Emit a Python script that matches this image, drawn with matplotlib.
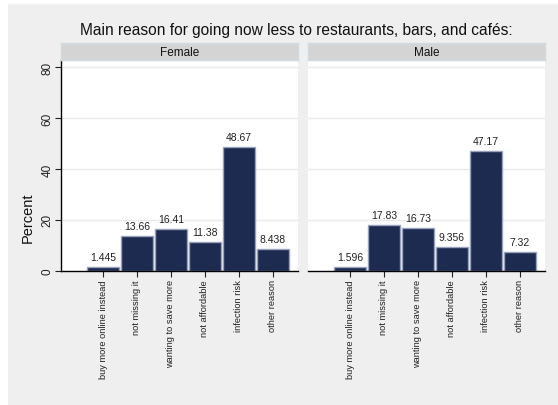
import matplotlib
matplotlib.use("Agg")
import matplotlib.pyplot as plt
from matplotlib.patches import Rectangle

plt.rcParams['font.family'] = ['Liberation Sans', 'DejaVu Sans']

categories = ["buy more online instead", "not missing it", "wanting to save more",
              "not affordable", "infection risk", "other reason"]
female = [1.445, 13.66, 16.41, 11.38, 48.67, 8.438]
male = [1.596, 17.83, 16.73, 9.356, 47.17, 7.32]
female_labels = ["1.445", "13.66", "16.41", "11.38", "48.67", "8.438"]
male_labels = ["1.596", "17.83", "16.73", "9.356", "47.17", "7.32"]
panels = ["Female", "Male"]
yticks = [0, 20, 40, 60, 80]
title = "Main reason for going now less to restaurants, bars, and cafés:"

W, H = 558, 406
fig = plt.figure(figsize=(W / 100, H / 100), dpi=100)
fig.patch.set_facecolor("white")
bg = Rectangle((7.5 / W, 0), 1, 1 - 5 / H, transform=fig.transFigure,
               facecolor="#efefef", edgecolor="none", zorder=-10)
fig.patches.append(bg)

def px_axes(x0, y0, x1, y1):
    ax = fig.add_axes([x0 / W, 1 - y1 / H, (x1 - x0) / W, (y1 - y0) / H])
    ax.set_zorder(1)
    return ax

fig.text(296 / W, 1 - 30 / H, title, ha="center", va="center", fontsize=11.2, color="#111111")

bar_face = "#1e2b51"
bar_edge = "#98a2ba"
positions = list(range(1, len(categories) + 1))

specs = [(61, 298, female, female_labels), (308, 545, male, male_labels)]
for i, (x0, x1, vals, labs) in enumerate(specs):
    ax = px_axes(x0, 61, x1, 271.7)
    ax.set_facecolor("white")
    ax.set_ylim(0, 82.9)
    ax.set_xlim(-0.24, 6.75)
    for y in yticks[1:]:
        ax.axhline(y, color="#eaeaea", lw=1.0, zorder=0)
    ax.bar(positions, vals, width=0.94, color=bar_face, edgecolor=bar_edge, linewidth=1.0, zorder=2)
    for p, v, t in zip(positions, vals, labs):
        ax.text(p, v + 2.0, t, ha="center", va="bottom", fontsize=7.5, color="#222222")
    for s in ["top", "right"]:
        ax.spines[s].set_visible(False)
    ax.spines["bottom"].set_color("black")
    ax.spines["bottom"].set_linewidth(1.0)
    ax.set_xticks(positions)
    ax.set_xticklabels(categories, rotation=90, fontsize=6.7, color="#222222")
    ax.tick_params(axis="x", length=4, width=0.8, pad=2, color="#222222")
    if i == 0:
        ax.spines["left"].set_color("black")
        ax.spines["left"].set_linewidth(1.0)
        ax.set_yticks(yticks)
        ax.set_yticklabels([str(y) for y in yticks], rotation=90, va="center", fontsize=8.5, color="#222222")
        ax.tick_params(axis="y", length=4, width=0.8, pad=1.5, color="#222222")
        ax.set_ylabel("Percent", fontsize=10.5, color="#111111")
        ax.yaxis.set_label_coords((27.3 - 61) / 237, (271.7 - 217.7) / 210.7)
        ax.yaxis.label.set_va("center")
    else:
        ax.spines["left"].set_visible(False)
        ax.set_yticks([])
    sax = px_axes(x0, 44, x1, 61)
    sax.set_facecolor("#d4d4d4")
    sax.set_xticks([]); sax.set_yticks([])
    for s in sax.spines.values():
        s.set_color("#cfdbe3")
        s.set_linewidth(1.0)
    sax.text(0.5, 0.5, panels[i], ha="center", va="center", fontsize=8.5,
             color="#111111", transform=sax.transAxes)

fig.savefig("out.png", dpi=100)
